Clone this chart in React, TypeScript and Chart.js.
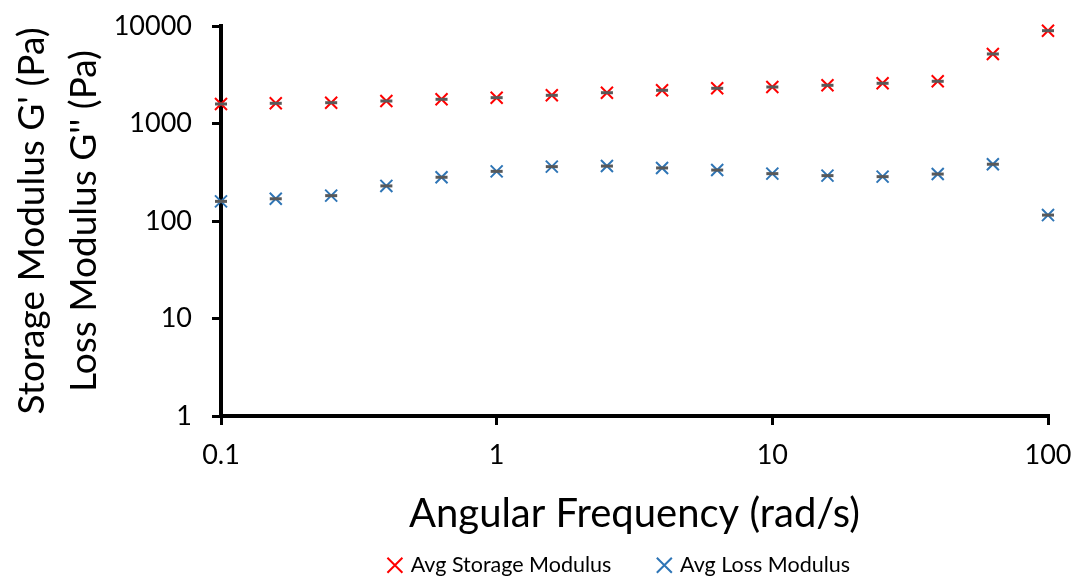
import React, { useEffect, useRef } from "react";
import { Chart, registerables } from "chart.js";

Chart.register(...registerables);

// Angular frequency (rad/s)
const frequencies = [0.1, 0.158, 0.251, 0.398, 0.631, 1, 1.585, 2.512, 3.981, 6.31, 10, 15.85, 25.12, 39.81, 63.1, 100];
// Avg Storage Modulus G' (Pa)
const storageModulus = [1585, 1611, 1634, 1701, 1771, 1840, 1946, 2069, 2190, 2296, 2368, 2465, 2584, 2710, 5164, 8954];
// Avg Loss Modulus G'' (Pa)
const lossModulus = [159, 169, 182, 229, 281, 323, 361, 366, 350, 333, 306, 292, 285, 303, 382, 115];

const xTickValues = [0.1, 1, 10, 100];
const yTickValues = [1, 10, 100, 1000, 10000];

const seriesLabels = ["Avg Storage Modulus", "Avg Loss Modulus"];
const xTitle = "Angular Frequency (rad/s)";
const yTitle = ["Storage Modulus G' (Pa)", "Loss Modulus G'' (Pa)"];

const FONT = "Lato, 'Open Sans', sans-serif";
const RED = "#FF0000";
const BLUE = "#2E75B6";
const GRAY = "#595959";

const W = 1075;
const H = 577;
const PLOT_LEFT = 221;
const PLOT_BOTTOM = 416;
const LEGEND_DX = 96;
const LEGEND_DY = 9;

const legendShift = {
  id: "legendShift",
  afterLayout(chart: any) {
    const l = chart.legend;
    if (!l) return;
    l.left += LEGEND_DX;
    l.right += LEGEND_DX;
    l.top += LEGEND_DY;
    l.bottom += LEGEND_DY;
  },
};

export default function App() {
  const ref = useRef<HTMLCanvasElement | null>(null);

  useEffect(() => {
    if (!ref.current) return;
    const pts = (ys: number[]) => frequencies.map((x, i) => ({ x, y: ys[i] }));
    const marker = (label: string, ys: number[], color: string) => ({
      label,
      data: pts(ys),
      pointStyle: "crossRot",
      pointRadius: 8.5,
      pointHoverRadius: 8.5,
      borderColor: color,
      backgroundColor: color,
      pointBorderWidth: 2,
      borderWidth: 2,
      clip: false,
      order: 2,
    });
    const errBar = (label: string, ys: number[]) => ({
      label,
      data: pts(ys),
      pointStyle: "line",
      pointRadius: 6,
      pointHoverRadius: 6,
      borderColor: GRAY,
      backgroundColor: GRAY,
      pointBorderWidth: 3,
      borderWidth: 3,
      clip: false,
      order: 1,
    });
    const chart = new Chart(ref.current, {
      type: "scatter",
      plugins: [legendShift],
      data: {
        datasets: [
          marker(seriesLabels[0], storageModulus, RED),
          marker(seriesLabels[1], lossModulus, BLUE),
          errBar("storage-err", storageModulus),
          errBar("loss-err", lossModulus),
        ] as any,
      },
      options: {
        animation: false,
        responsive: false,
        maintainAspectRatio: false,
        layout: { padding: { top: 26, right: 27, left: 0, bottom: 0 } },
        plugins: {
          tooltip: { enabled: false },
          legend: {
            position: "bottom",
            labels: {
              filter: (item: any) => item.datasetIndex < 2,
              sort: (a: any, b: any) => a.datasetIndex - b.datasetIndex,
              usePointStyle: true,
              boxWidth: 10,
              boxHeight: 15,
              padding: 48,
              color: "#000",
              font: { family: FONT, size: 21.5 },
            },
          },
        },
        scales: {
          x: {
            type: "logarithmic",
            min: 0.1,
            max: 100,
            afterBuildTicks: (s: any) => {
              s.ticks = xTickValues.map((v) => ({ value: v }));
            },
            afterFit: (s: any) => {
              const lh = s.chart.legend ? s.chart.legend.height : 0;
              s.height = s.chart.height - PLOT_BOTTOM - lh;
              s.paddingLeft = 0;
              s.paddingRight = 0;
            },
            ticks: {
              autoSkip: false,
              maxRotation: 0,
              padding: 14,
              color: "#000",
              font: { family: FONT, size: 27 },
              callback: (v: any) => String(v),
            },
            grid: {
              drawOnChartArea: false,
              drawTicks: true,
              tickLength: 9,
              color: "#000",
              lineWidth: 3,
            },
            border: { display: true, color: "#000", width: 4 },
            title: {
              display: true,
              text: xTitle,
              color: "#000",
              font: { family: FONT, size: 40 },
              padding: { top: 0, bottom: -41 },
            },
          },
          y: {
            type: "logarithmic",
            min: 1,
            max: 10000,
            afterBuildTicks: (s: any) => {
              s.ticks = yTickValues.map((v) => ({ value: v }));
            },
            afterFit: (s: any) => {
              s.width = PLOT_LEFT;
              s.paddingTop = 0;
              s.paddingBottom = 0;
            },
            ticks: {
              autoSkip: false,
              padding: 20,
              color: "#000",
              font: { family: FONT, size: 27 },
              callback: (v: any) => String(v),
            },
            grid: {
              drawOnChartArea: false,
              drawTicks: true,
              tickLength: 9,
              color: "#000",
              lineWidth: 3,
            },
            border: { display: true, color: "#000", width: 4 },
            title: {
              display: true,
              text: yTitle,
              color: "#000",
              font: { family: FONT, size: 37, lineHeight: "52px" },
              padding: { top: 6, bottom: 0 },
            },
          },
        },
      },
    });
    return () => chart.destroy();
  }, []);

  return (
    <div style={{ position: "fixed", left: 0, top: 0, width: W, height: H, background: "#fff" }}>
      <canvas ref={ref} width={W} height={H} style={{ width: W, height: H, display: "block" }} />
    </div>
  );
}
